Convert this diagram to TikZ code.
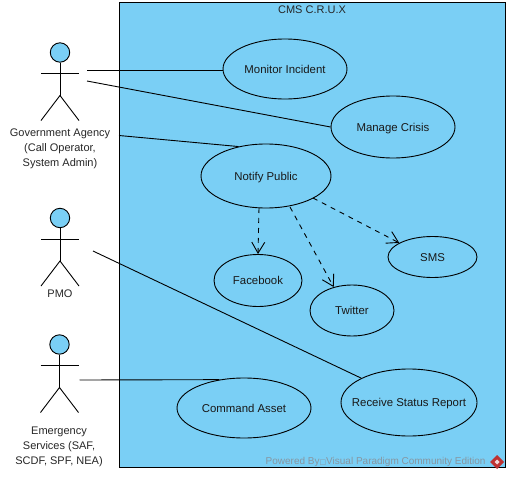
\documentclass[tikz,border=0pt]{standalone}
\usepackage{fontspec}
\setmainfont{Liberation Sans}
\newfontfamily\symfont{DejaVu Sans}
\usetikzlibrary{shapes.geometric,arrows.meta}
\definecolor{vpblue}{RGB}{122,207,245}
\definecolor{vpgray}{RGB}{135,150,160}
\definecolor{vpred}{RGB}{190,50,50}
\tikzset{
  usecase/.style={draw=black,fill=vpblue,ellipse,inner sep=0pt,inner xsep=-14pt,text height=8pt,text depth=0pt,font=\fontsize{11.4}{13}\selectfont,text=black!90},
  assoc/.style={draw=black,line width=0.9pt},
  dep/.style={draw=black,line width=0.9pt,dashed,dash pattern=on 5pt off 5pt,-{Straight Barb[length=11pt,width=13pt,line width=0.9pt]}},
  actorlabel/.style={align=center,font=\fontsize{11}{15}\selectfont,text=black!85},
  actorbox/.style={inner sep=0pt,minimum width=38pt,minimum height=78pt}
}
\newcommand{\stickman}[3]{%
  \draw[line width=0.9pt,fill=vpblue] (#1,#2+10) circle[radius=9.7pt];
  \draw[line width=0.9pt] (#1,#2+20) -- (#1,#2+53);
  \draw[line width=0.9pt] (#1-19,#2+31) -- (#1+19,#2+31);
  \draw[line width=0.9pt] (#1-19,#2+78) -- (#1,#2+53) -- (#1+19,#2+78);
  \node[actorbox] (#3) at (#1,#2+39) {};
}
\begin{document}
\begin{tikzpicture}[x=1pt,y=-1pt,line width=0.9pt]
\useasboundingbox (0,0) rectangle (509,479);
\node[draw=black,fill=vpblue,line width=0.9pt,inner sep=0pt,minimum width=385.5pt,minimum height=464.5pt] (sys) at (312.25,234.75) {};
\node[font=\fontsize{11}{13}\selectfont,text=black!85] (systitle) at (312,9.5) {CMS C.R.U.X};

\stickman{60}{42.5}{gov}
\stickman{60}{208}{pmo}
\stickman{59.5}{334.5}{ems}
\node[actorlabel] (govl) at (60,148.5) {Government Agency\\(Call Operator,\\System Admin)};
\node[actorlabel] (pmol) at (60,293.5) {PMO};
\node[actorlabel] (emsl) at (59,446.5) {Emergency\\Services (SAF,\\SCDF, SPF, NEA)};

\node[usecase,minimum width=124pt,minimum height=60pt] (mon) at (285,69) {Monitor Incident};
\node[usecase,minimum width=124pt,minimum height=62pt] (man) at (393,127) {Manage Crisis};
\node[usecase,minimum width=130pt,minimum height=64pt] (nfy) at (266,176) {Notify Public};
\node[usecase,minimum width=88pt,minimum height=52pt] (fb) at (258,280.5) {Facebook};
\node[usecase,minimum width=84pt,minimum height=51pt] (tw) at (352,310.5) {Twitter};
\node[usecase,minimum width=89pt,minimum height=41pt] (sms) at (432.5,257) {SMS};
\node[usecase,minimum width=134pt,minimum height=60pt] (cmd) at (244,408) {Command Asset};
\node[usecase,minimum width=136pt,minimum height=67pt] (rcv) at (409,402.5) {Receive Status Report};

\coordinate (g1) at (87,70.5);
\coordinate (g2) at (87,81);
\coordinate (g3) at (119,135.5);
\coordinate (p1) at (93,251);
\coordinate (e1) at (79.5,380);
\coordinate (n1) at (259,208);
\coordinate (n2) at (290,207);
\coordinate (n3) at (313,198);

\draw[assoc] (g1) -- (g1 -| mon.west);
\draw[assoc] (g2) -- (man.west);
\draw[assoc] (g3) -- (nfy.133);
\draw[assoc] (p1) -- (rcv.153);
\draw[assoc] (e1) -- (cmd.131);
\draw[dep] (n1) -- (fb.north);
\draw[dep] (n2) -- (tw.128);
\draw[dep] (n3) -- (sms.157);

\node[anchor=east,inner sep=0pt,font=\fontsize{10}{12}\selectfont,text=vpgray] (pw) at (486,462) {Powered By{\symfont\fontsize{7}{8}\selectfont □}Visual Paradigm Community Edition};
\fill[vpred] (497,455) -- (504,462) -- (497,469) -- (490,462) -- cycle;
\fill[white!80!vpred] (497,459.5) -- (499.5,462) -- (497,464.5) -- (494.5,462) -- cycle;
\end{tikzpicture}
\end{document}
